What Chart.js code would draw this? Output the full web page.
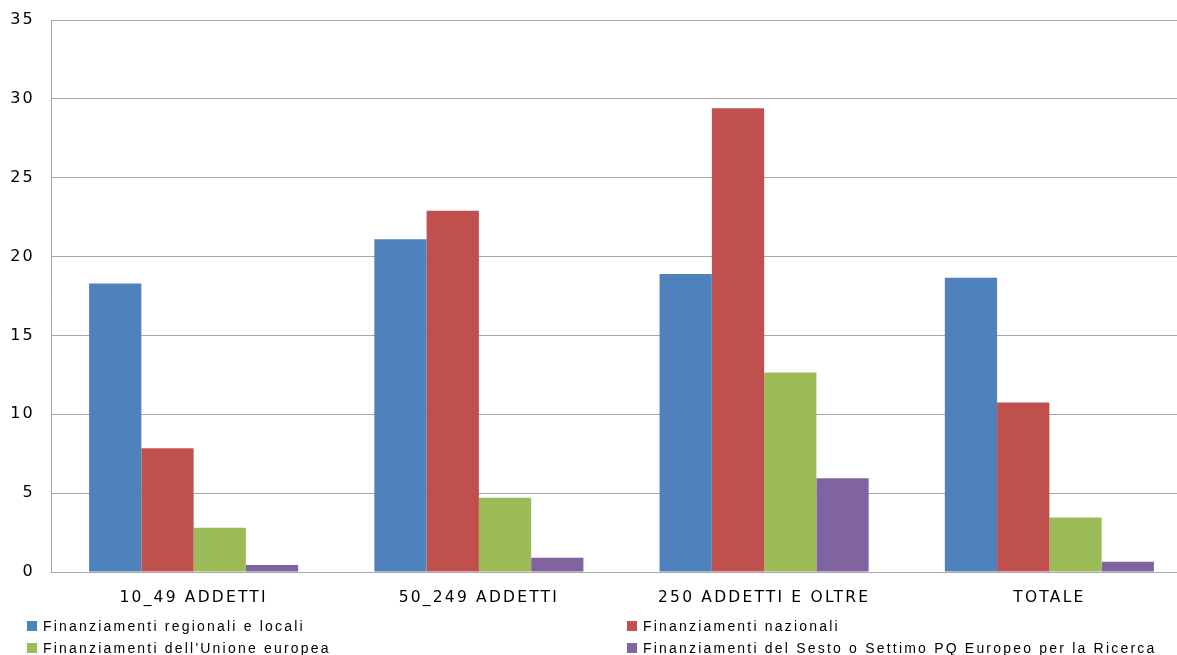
<!DOCTYPE html>
<html>
<head>
<meta charset="utf-8">
<script src="https://cdn.jsdelivr.net/npm/chart.js@4/dist/chart.umd.min.js"></script>
<style>
  html, body { margin: 0; padding: 0; background: #fff; overflow: hidden; }
  #wrap { width: 1177px; height: 655px; overflow: hidden; }
</style>
</head>
<body>
<div id="wrap"><canvas id="myChart" width="1192" height="655"></canvas></div>
<script>
const categories = ['10_49 ADDETTI', '50_249 ADDETTI', '250 ADDETTI E OLTRE', 'TOTALE'];
const regionali = [18.3, 21.1, 18.9, 18.65];
const nazionali = [7.85, 22.9, 29.4, 10.75];
const unioneEuropea = [2.8, 4.7, 12.65, 3.45];
const pqEuropeo = [0.45, 0.9, 5.95, 0.65];
const seriesNames = [
  'Finanziamenti regionali e locali',
  'Finanziamenti nazionali',
  "Finanziamenti dell'Unione europea",
  'Finanziamenti del Sesto o Settimo PQ Europeo per la Ricerca'
];
const colors = ['#4F81BD', '#C0504D', '#9BBB59', '#8064A2'];

// wide spacing for all text on the canvas
const spacing = {
  id: 'spacing',
  beforeDraw(chart) {
    chart.ctx.save();
    chart.ctx.letterSpacing = '2.2px';
  },
  afterDraw(chart) {
    chart.ctx.restore();
  }
};

// two-column legend under the x labels
const bottomLegend = {
  id: 'bottomLegend',
  afterDraw(chart) {
    const c = chart.ctx;
    c.save();
    c.font = '14px "Liberation Sans", Arial, sans-serif';
    c.letterSpacing = '2.2px';
    c.textBaseline = 'middle';
    chart.data.datasets.forEach((ds, i) => {
      const x = i % 2 === 0 ? 27 : 627;
      const y = i < 2 ? 626 : 648;
      c.fillStyle = ds.backgroundColor;
      c.fillRect(x, y - 5, 10, 10);
      c.fillStyle = '#000';
      c.fillText(ds.label, x + 16, y + 1);
    });
    c.restore();
  }
};

new Chart(document.getElementById('myChart'), {
  type: 'bar',
  data: {
    labels: categories,
    datasets: [
      { label: seriesNames[0], data: regionali, backgroundColor: colors[0] },
      { label: seriesNames[1], data: nazionali, backgroundColor: colors[1] },
      { label: seriesNames[2], data: unioneEuropea, backgroundColor: colors[2] },
      { label: seriesNames[3], data: pqEuropeo, backgroundColor: colors[3] }
    ]
  },
  options: {
    responsive: false,
    animation: false,
    events: [],
    datasets: { bar: { categoryPercentage: 0.733, barPercentage: 1.0 } },
    layout: { padding: { top: 20, left: 0, right: 0, bottom: 0 } },
    plugins: { legend: { display: false }, tooltip: { enabled: false } },
    scales: {
      x: {
        grid: { display: false, drawTicks: false },
        border: { color: '#a6a6a6', width: 1 },
        ticks: {
          color: '#000',
          font: { family: '"DejaVu Sans", Verdana, sans-serif', size: 15.5 },
          padding: 17,
          maxRotation: 0
        },
        afterFit(scale) {
          scale.height = 83;
          scale.paddingLeft = 0;
          scale.paddingRight = 0;
        }
      },
      y: {
        min: 0,
        max: 35,
        ticks: {
          stepSize: 5,
          color: '#000',
          font: { family: '"DejaVu Sans", Verdana, sans-serif', size: 16 },
          padding: 16
        },
        grid: { color: '#a6a6a6', drawTicks: false },
        border: { color: '#a6a6a6', width: 1 },
        afterFit(scale) {
          scale.width = 51;
          scale.paddingTop = 0;
          scale.paddingBottom = 0;
        }
      }
    }
  },
  plugins: [spacing, bottomLegend]
});
</script>
</body>
</html>
